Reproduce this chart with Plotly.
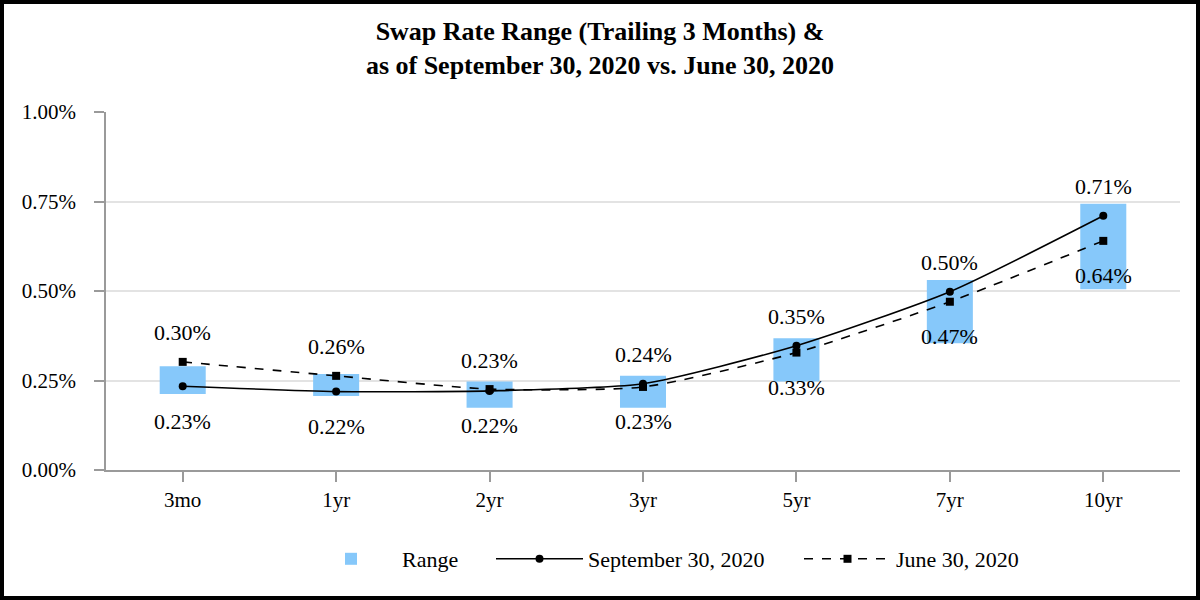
import plotly.graph_objects as go

categories = ["3mo", "1yr", "2yr", "3yr", "5yr", "7yr", "10yr"]
range_low = [0.212, 0.207, 0.174, 0.174, 0.247, 0.354, 0.505]
range_high = [0.290, 0.268, 0.247, 0.263, 0.368, 0.531, 0.744]
sep_2020 = [0.234, 0.219, 0.221, 0.241, 0.347, 0.498, 0.710]
jun_2020 = [0.302, 0.263, 0.226, 0.232, 0.328, 0.470, 0.640]
y_tick_vals = [0, 0.25, 0.5, 0.75, 1.0]
y_tick_text = ["0.00%", "0.25%", "0.50%", "0.75%", "1.00%"]

FONT = "Liberation Serif, Times New Roman, serif"

fig = go.Figure()
fig.add_trace(go.Bar(
    x=categories,
    y=[h - l for h, l in zip(range_high, range_low)],
    base=range_low,
    width=0.3,
    marker=dict(color="#86C8FA", line=dict(width=0)),
    name="Range", legend="legend",
))
fig.add_trace(go.Scatter(
    x=categories, y=sep_2020, mode="lines+markers", name="September 30, 2020",
    line=dict(color="black", width=1.6, shape="spline", smoothing=0.6),
    marker=dict(symbol="circle", size=8, color="black"),
    legend="legend2",
))
fig.add_trace(go.Scatter(
    x=categories, y=jun_2020, mode="lines+markers", name="June 30, 2020",
    line=dict(color="black", width=1.6, dash="dash", shape="spline", smoothing=0.6),
    marker=dict(symbol="square", size=8, color="black"),
    legend="legend3",
))

annotations = []
for c, s, j in zip(categories, sep_2020, jun_2020):
    hi, lo = max(s, j), min(s, j)
    annotations.append(dict(x=c, y=hi, text=f"{hi:.2f}%", showarrow=False,
                            yshift=29, font=dict(family=FONT, size=22, color="black")))
    annotations.append(dict(x=c, y=lo, text=f"{lo:.2f}%", showarrow=False,
                            yshift=-35, font=dict(family=FONT, size=22, color="black")))

ml, mr, mt, mb = 106, 20, 112, 130
W, H = 1200, 600
pw, ph = W - ml - mr, H - mt - mb
def px_x(p):
    return (p - ml) / pw
def px_y(p):
    return (H - mb - p) / ph

legend_common = dict(orientation="h", xanchor="left", yanchor="middle", y=px_y(559),
                     font=dict(family=FONT, size=22, color="black"),
                     bgcolor="rgba(0,0,0,0)")

fig.update_layout(
    width=W, height=H,
    margin=dict(l=ml, r=mr, t=mt, b=mb),
    paper_bgcolor="white", plot_bgcolor="white",
    font=dict(family=FONT, size=21, color="black"),
    title=dict(
        text="<b>Swap Rate Range (Trailing 3 Months) &amp;<br>as of September 30, 2020 vs. June 30, 2020</b>",
        x=0.5, xanchor="center", y=0.933, yanchor="middle",
        font=dict(family=FONT, size=26, color="black"),
    ),
    xaxis=dict(
        range=[-0.5, 6.5], showgrid=False, showline=True, linecolor="#9A9A9A", linewidth=1.5,
        ticks="outside", ticklen=10, tickcolor="#9A9A9A", tickwidth=1.5,
        tickfont=dict(family=FONT, size=21, color="black"),
    ),
    yaxis=dict(
        range=[0, 1.0], tickvals=y_tick_vals, ticktext=y_tick_text,
        showgrid=True, gridcolor="#E3E3E3", gridwidth=1.5,
        showline=True, linecolor="#9A9A9A", linewidth=1.5,
        ticks="outside", ticklen=10, tickcolor="#9A9A9A", tickwidth=1.5,
        tickfont=dict(family=FONT, size=21, color="black"), zeroline=False,
        ticklabelstandoff=14,
    ),
    legend=dict(legend_common, x=px_x(300), itemwidth=92),
    legend2=dict(legend_common, x=px_x(491), itemwidth=87),
    legend3=dict(legend_common, x=px_x(799), itemwidth=87),
    annotations=annotations,
    shapes=[dict(type="rect", xref="paper", yref="paper",
                 x0=px_x(2), x1=px_x(1198), y0=px_y(598), y1=px_y(2),
                 line=dict(color="black", width=4), layer="above")],
    showlegend=True,
)

fig.write_html("out.html", config={"displayModeBar": False},
               post_script="document.body.style.margin='0';")
